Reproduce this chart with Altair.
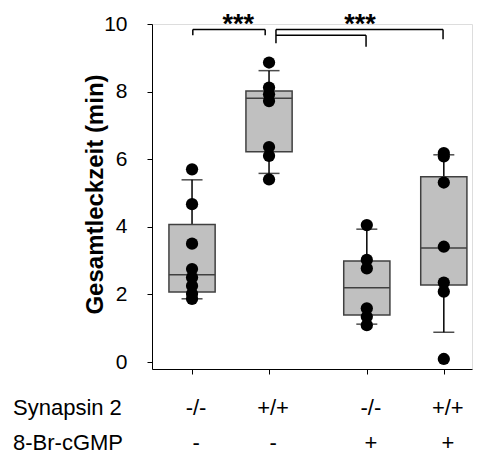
import altair as alt
import pandas as pd

# ---- data ----
positions = [1.0, 2.0, 3.27, 4.27]
synapsin = ["-/-", "+/+", "-/-", "+/+"]
cgmp = ["-", "-", "+", "+"]
q1 = [2.07, 6.22, 1.39, 2.28]
median = [2.58, 7.80, 2.20, 3.37]
q3 = [4.07, 8.02, 2.99, 5.48]
whisk_lo = [1.87, 5.58, 1.12, 0.88]
whisk_hi = [5.39, 8.62, 3.93, 6.13]
pts_g1 = [5.70, 4.67, 3.50, 2.75, 2.50, 2.25, 2.02, 1.87]
pts_g2 = [8.86, 8.12, 7.92, 7.72, 6.36, 6.10, 5.40]
pts_g3 = [4.05, 3.02, 2.77, 1.59, 1.34, 1.09]
pts_g4 = [6.18, 6.08, 5.31, 3.41, 2.35, 2.08, 0.09]

# significance brackets: segments (x, y, x2, y2)
seg_x = [1.01, 1.01, 1.95, 2.09, 2.09, 4.26, 2.09, 3.26]
seg_y = [9.67, 9.84, 9.84, 9.43, 9.84, 9.84, 9.67, 9.67]
seg_x2 = [1.01, 1.95, 1.95, 2.09, 4.26, 4.26, 3.26, 3.26]
seg_y2 = [9.84, 9.84, 9.67, 9.84, 9.84, 9.55, 9.67, 9.33]
star_x = [1.6, 3.18]
star_y = [9.74, 9.74]
star_text = ["***", "***"]

box_df = pd.DataFrame({"pos": positions, "q1": q1, "median": median, "q3": q3,
                       "lo": whisk_lo, "hi": whisk_hi,
                       "syn": synapsin, "cg": cgmp})
pts = []
for p, vals in zip(positions, [pts_g1, pts_g2, pts_g3, pts_g4]):
    for v in vals:
        pts.append({"pos": p, "val": v})
pts_df = pd.DataFrame(pts)
seg_df = pd.DataFrame({"x": seg_x, "y": seg_y, "x2": seg_x2, "y2": seg_y2})
star_df = pd.DataFrame({"x": star_x, "y": star_y, "t": star_text})

FONT = "Liberation Sans"
xs = alt.Scale(domain=[0.48, 4.636], nice=False, zero=False)
ys = alt.Scale(domain=[-0.207, 10], nice=False, zero=False)

xaxis = alt.Axis(values=positions, labels=False, title=None, grid=False,
                 domainColor="black", tickColor="black", tickSize=5, domainWidth=1)
yaxis = alt.Axis(values=[0, 2, 4, 6, 8, 10], grid=False, title="Gesamtleckzeit (min)",
                 labelFont=FONT, labelFontSize=21, labelColor="black", labelPadding=20,
                 titleFont=FONT, titleFontSize=24, titleFontWeight="bold", titleColor="black",
                 titleAngle=270, titleX=-57, titleY=170, titleAlign="center",
                 titleBaseline="middle",
                 domainColor="black", tickColor="black", tickSize=5)

base_box = alt.Chart(box_df)

whisker = base_box.mark_rule(color="black", strokeWidth=1.5).encode(
    x=alt.X("pos:Q", scale=xs, axis=xaxis),
    y=alt.Y("lo:Q", scale=ys, axis=yaxis),
    y2="hi:Q")

caps_lo = base_box.mark_tick(orient="horizontal", size=21, thickness=1.5, color="black").encode(
    x=alt.X("pos:Q", scale=xs), y=alt.Y("lo:Q", scale=ys))
caps_hi = base_box.mark_tick(orient="horizontal", size=21, thickness=1.5, color="black").encode(
    x=alt.X("pos:Q", scale=xs), y=alt.Y("hi:Q", scale=ys))

box = base_box.transform_calculate(
    xl="datum.pos - 0.3", xr="datum.pos + 0.3"
).mark_rect(fill="#c0c0c0", stroke="#404040", strokeWidth=1.5).encode(
    x=alt.X("xl:Q", scale=xs), x2="xr:Q",
    y=alt.Y("q1:Q", scale=ys), y2="q3:Q")

med = base_box.transform_calculate(
    xl="datum.pos - 0.3", xr="datum.pos + 0.3"
).mark_rule(color="#404040", strokeWidth=1.5).encode(
    x=alt.X("xl:Q", scale=xs), x2="xr:Q", y=alt.Y("median:Q", scale=ys))

dots = alt.Chart(pts_df).mark_circle(size=150, color="black", opacity=1).encode(
    x=alt.X("pos:Q", scale=xs), y=alt.Y("val:Q", scale=ys))

brackets = alt.Chart(seg_df).mark_rule(color="black", strokeWidth=1.5).encode(
    x=alt.X("x:Q", scale=xs), x2="x2:Q", y=alt.Y("y:Q", scale=ys), y2="y2:Q")

stars = alt.Chart(star_df).mark_text(font=FONT, fontSize=27, fontWeight="bold",
                                     baseline="alphabetic", color="black").encode(
    x=alt.X("x:Q", scale=xs), y=alt.Y("y:Q", scale=ys), text="t:N")

syn_lbl = base_box.mark_text(font=FONT, fontSize=22, color="black", dx=4).encode(
    x=alt.X("pos:Q", scale=xs), y=alt.value(384), text="syn:N")
cg_lbl = base_box.mark_text(font=FONT, fontSize=22, color="black", dx=4).encode(
    x=alt.X("pos:Q", scale=xs), y=alt.value(419), text="cg:N")

row_df = pd.DataFrame({"t": ["Synapsin 2", "8-Br-cGMP"], "yy": [384, 419]})
row_lbl = alt.Chart(row_df).mark_text(font=FONT, fontSize=22, color="black",
                                      align="left").encode(
    x=alt.value(-139), y=alt.Y("yy:Q", scale=None), text="t:N")

chart = alt.layer(whisker, caps_lo, caps_hi, box, med, dots, brackets, stars,
                  syn_lbl, cg_lbl, row_lbl).properties(
    width=320, height=345,
    autosize=alt.AutoSizeParams(type="none"),
    padding={"left": 144, "top": 16, "right": 5, "bottom": 89},
).configure_view(stroke=None).configure(background="white")

chart.save("out.html", embed_options={"renderer": "svg", "actions": False})
